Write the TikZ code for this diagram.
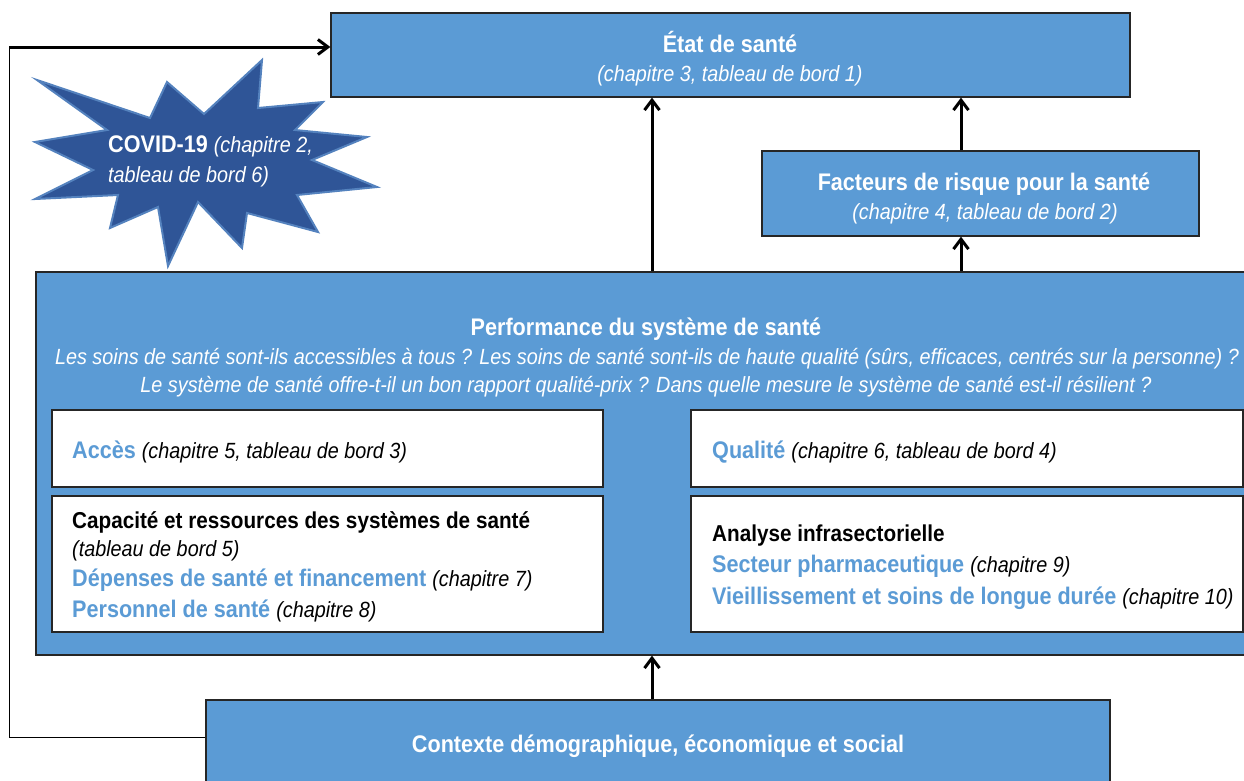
\documentclass[tikz,border=0pt]{standalone}
\usepackage{fontspec}
\setmainfont{Liberation Sans}[FakeStretch=0.9]
\usetikzlibrary{arrows.meta}
\usetikzlibrary{positioning}

\definecolor{boxblue}{RGB}{91,155,213}
\definecolor{starblue}{RGB}{47,85,151}
\definecolor{starline}{RGB}{84,130,190}
\definecolor{edgegray}{RGB}{38,38,38}
\newcommand{\ttl}{\fontsize{24}{28}\selectfont\bfseries}
\newcommand{\sub}{\fontsize{22}{26}\selectfont\mdseries\itshape}
\newcommand{\hl}[1]{{\color{boxblue}\bfseries #1}}

\begin{document}
\begin{tikzpicture}[x=1pt,y=-1pt,
		bluebox/.style={draw=edgegray, line width=1.2pt, fill=boxblue, inner sep=0pt},
		whitebox/.style={draw=edgegray, line width=1.2pt, fill=white, inner sep=0pt},
		txt/.style={inner sep=0pt, anchor=base, font=\fontsize{24}{28}\selectfont},
		ltxt/.style={inner sep=0pt, anchor=base west, font=\fontsize{24}{28}\selectfont},
		up/.style={-{Straight Barb[length=10pt,width=15pt]}, line width=3pt}]
		\useasboundingbox (0,0) rectangle (1244,780);
		
		% boxes
		\node[bluebox, minimum width=799pt, minimum height=84pt] (etat) at (730.5,55) {};
		\node[bluebox, minimum width=437pt, minimum height=85pt] (facteurs) at (980.5,193.5) {};
		\node[bluebox, minimum width=1226pt, minimum height=383pt] (perf) at (649,463.5) {};
		\node[whitebox, minimum width=551pt, minimum height=77pt] (acces) at (327.5,448.5) {};
		\node[whitebox, minimum width=552pt, minimum height=77pt] (qualite) at (967,448.5) {};
		\node[whitebox, minimum width=551pt, minimum height=136pt] (capacite) at (327.5,564) {};
		\node[whitebox, minimum width=552pt, minimum height=136pt] (analyse) at (967,564) {};
		\node[bluebox, minimum width=904pt, minimum height=100pt] (contexte) at (658,750) {};
		
		% star
		\draw[fill=starblue, draw=starline, line width=2pt] (37,80) -- (150,118) -- (167,82) -- (204,114)
			-- (262,60) -- (258,108) -- (323,102) -- (295,130) -- (367,137) -- (312,160)
			-- (377,187) -- (297,195) -- (318,232) -- (247,213) -- (242,248) -- (198,202)
			-- (168,266) -- (158,207) -- (110,228) -- (118,195) -- (35,199) -- (93,170)
			-- (35,142) -- (107,130) -- cycle;
		
		% texts
		\node[txt, text=white] (etatT) at (730,52) {\ttl État de santé};
		\node[txt, text=white] (etatS) at (730,81) {\sub (chapitre 3, tableau de bord 1)};
		\node[txt, text=white] (facteursT) at (984,190) {\ttl Facteurs de risque pour la santé};
		\node[txt, text=white] (facteursS) at (985,219) {\sub (chapitre 4, tableau de bord 2)};
		\node[ltxt, text=white] (covidT) at (108,152) {\ttl COVID-19 {\sub (chapitre 2,}};
		\node[ltxt, text=white] (covidS) at (108,182) {\sub tableau de bord 6)};
		\node[txt, text=white] (perfT) at (646,335) {\ttl Performance du système de santé};
		\node[txt, text=white] (perfA) at (647,364) {\sub Les soins de santé sont-ils accessibles à tous ? Les soins de santé sont-ils de haute qualité (sûrs, efficaces, centrés sur la personne) ?};
		\node[txt, text=white] (perfB) at (646,392) {\sub Le système de santé offre-t-il un bon rapport qualité-prix ? Dans quelle mesure le système de santé est-il résilient ?};
		\node[ltxt] (accesT) at (72,458) {\hl{Accès} \sub (chapitre 5, tableau de bord 3)};
		\node[ltxt] (qualiteT) at (712,458) {\hl{Qualité} \sub (chapitre 6, tableau de bord 4)};
		\node[ltxt] (capaciteT) at (72,528) {\fontsize{23}{27}\selectfont\bfseries Capacité et ressources des systèmes de santé};
		\node[ltxt] (capaciteS) at (72,556) {\sub (tableau de bord 5)};
		\node[ltxt] (depenses) at (72,586) {\hl{Dépenses de santé et financement} \sub (chapitre 7)};
		\node[ltxt] (personnel) at (72,617) {\hl{Personnel de santé} \sub (chapitre 8)};
		\node[ltxt] (analyseT) at (712,541) {\fontsize{23}{27}\selectfont\bfseries Analyse infrasectorielle};
		\node[ltxt] (pharma) at (712,572) {\hl{Secteur pharmaceutique} \sub (chapitre 9)};
		\node[ltxt] (vieil) at (712,604) {\hl{Vieillissement et soins de longue durée} \sub (chapitre 10)};
		\node[txt, text=white] (contexteT) at (658,752) {\ttl Contexte démographique, économique et social};
		
		% arrows
		\coordinate (mid) at (652,0);
		\coordinate (right) at (961,0);
		\coordinate (loop) at (9,47);
		\draw[up] (perf.north -| mid) -- (etat.south -| mid);
		\draw[up] (perf.north -| right) -- (facteurs.south -| right);
		\draw[up] (facteurs.north -| right) -- (etat.south -| right);
		\draw[up] (contexte.north -| mid) -- (perf.south -| mid);
		\draw[line width=1pt] (contexte.west |- 0,737) -| (loop);
		\draw[up] (loop) -- (etat.west |- loop);
\end{tikzpicture}
\end{document}
